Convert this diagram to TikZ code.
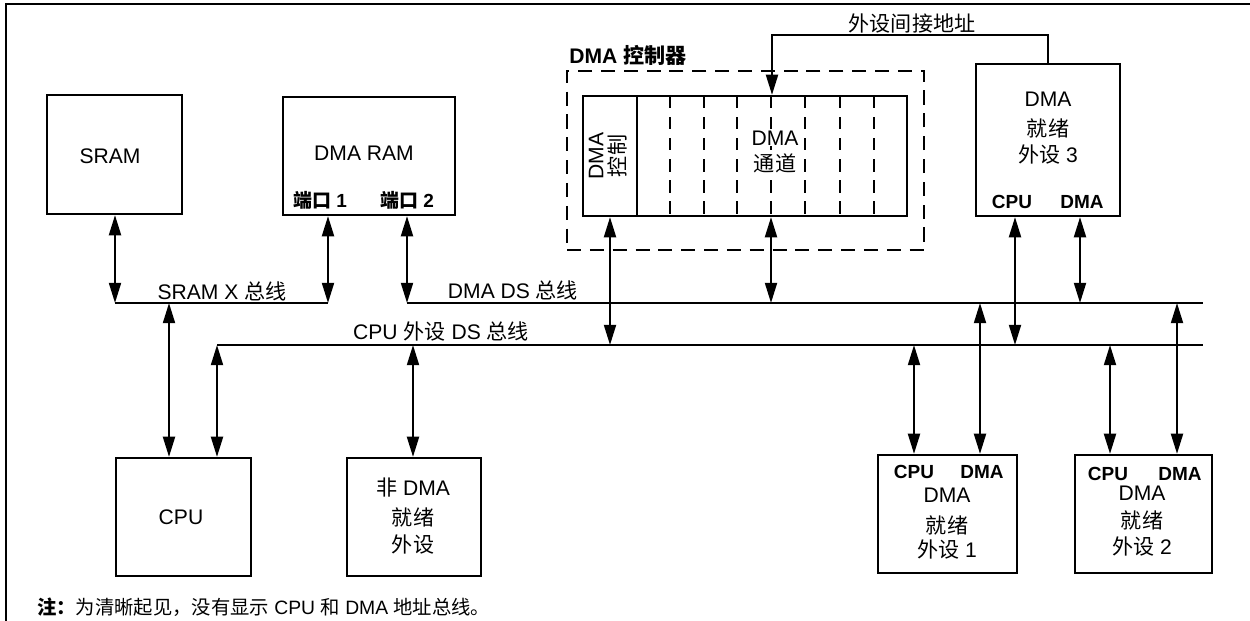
\documentclass[tikz,border=0pt]{standalone}
\usepackage{fontspec}
\setmainfont{Liberation Sans}
\newfontfamily\cjk{Noto Sans CJK SC}
\usetikzlibrary{arrows.meta,fit}
\newcommand\zh[1]{{\cjk #1}}
\begin{document}
\begin{tikzpicture}[x=0.02cm,y=-0.02cm,
  box/.style={draw,line width=1.25pt,inner sep=0pt,fit={#1}},
  lbl/.style={inner sep=1pt,font=\fontsize{12}{13.5}\selectfont},
  blbl/.style={inner sep=1pt,font=\fontsize{10.8}{12}\selectfont\bfseries},
  wlbl/.style={lbl,fill=white,inner sep=0.5pt},
  bus/.style={line width=1.25pt},
  frame/.style={line width=1.5pt},
  dashbox/.style={draw,line width=1.2pt,dash pattern=on 8pt off 5pt,inner sep=0pt,fit={#1}},
  divider/.style={line width=0.9pt,dash pattern=on 7pt off 5pt},
  tipT/.tip={Triangle[length=11.5pt,width=6.8pt]},
  bi/.style={line width=1.25pt,tipT-tipT},
  uni/.style={line width=1.25pt,-tipT},
  ]
\useasboundingbox (0,0) rectangle (1250,621);

% outer frame (open on right and bottom)
\coordinate (fb) at (6,621);
\coordinate (fc) at (6,4);
\coordinate (fr) at (1250,4);
\draw[frame] (fb) -- (fc) -- (fr);

% boxes
\node[box={(47,95) (182,214)}] (sram) {};
\node[box={(283,97) (455,215)}] (ram) {};
\node[box={(116,458) (251,576)}] (cpu) {};
\node[box={(347,458) (481,576)}] (ndma) {};
\node[box={(976,64) (1120,216)}] (p3) {};
\node[box={(878,455) (1017,573)}] (p1) {};
\node[box={(1075,455) (1212,573)}] (p2) {};

% DMA controller
\node[dashbox={(567,71) (924,250)}] (ctrl) {};
\node[box={(583,96) (907,216)}] (chan) {};
\coordinate (cdT) at (637,96);
\coordinate (cdB) at (637,216);
\draw[line width=1.25pt] (cdT) -- (cdB);
\foreach \i/\x in {1/670,2/704,3/737,4/771,5/805,6/840,7/874}{
  \coordinate (dT\i) at (\x,96);
  \coordinate (dB\i) at (\x,216);
  \draw[divider] (dT\i) -- (dB\i);
}

% labels
\node[lbl] (tsram) at (110,156) {SRAM};
\node[lbl] (tram) at (364,153) {DMA RAM};
\node[blbl] (port1) at (320,200) {\zh{\bfseries 端口} 1};
\node[blbl] (port2) at (407,200) {\zh{\bfseries 端口} 2};
\node[lbl] (tcpu) at (181,517) {CPU};
\node[lbl] (tnd1) at (413,488) {\zh{非} DMA};
\node[lbl] (tnd2) at (413,517) {\zh{就绪}};
\node[lbl] (tnd3) at (413,545) {\zh{外设}};

\node[lbl,font=\fontsize{12}{13.5}\selectfont\bfseries] (tctrl) at (628,55) {DMA \zh{\bfseries 控制器}};
\node[lbl,rotate=90,align=center,font=\fontsize{12}{12.5}\selectfont] (tcc) at (608,156) {DMA\\\zh{控制}};
\node[wlbl] (tch1) at (775,138) {DMA};
\node[wlbl] (tch2) at (775,163) {\zh{通道}};

\node[lbl] (tp31) at (1048,99) {DMA};
\node[lbl] (tp32) at (1048,128) {\zh{就绪}};
\node[lbl] (tp33) at (1048,155) {\zh{外设} 3};
\node[blbl] (p3c) at (1012,202) {CPU};
\node[blbl] (p3d) at (1082,202) {DMA};

\node[blbl] (p1c) at (914,472) {CPU};
\node[blbl] (p1d) at (982,472) {DMA};
\node[lbl] (tp11) at (947,495) {DMA};
\node[lbl] (tp12) at (947,525) {\zh{就绪}};
\node[lbl] (tp13) at (947,550) {\zh{外设} 1};

\node[blbl] (p2c) at (1108,474) {CPU};
\node[blbl] (p2d) at (1180,474) {DMA};
\node[lbl] (tp21) at (1142,493) {DMA};
\node[lbl] (tp22) at (1142,520) {\zh{就绪}};
\node[lbl] (tp23) at (1142,547) {\zh{外设} 2};

\node[lbl] (tsx) at (222,291) {SRAM X \zh{总线}};
\node[lbl] (tds) at (513,290) {DMA DS \zh{总线}};
\node[lbl] (tcb) at (441,331) {CPU \zh{外设} DS \zh{总线}};
\node[lbl] (tind) at (912,24) {\zh{外设间接地址}};

\node[lbl,anchor=west,font=\fontsize{11}{12.5}\selectfont] (note) at (35,607) {\zh{\bfseries 注：}\zh{为清晰起见，没有显示} CPU \zh{和} DMA \zh{地址总线。}};

% buses
\coordinate (sxL) at (115,303);
\coordinate (sxR) at (328,303);
\coordinate (sxC) at (169,303);
\coordinate (dsL) at (407,303);
\coordinate (dsR) at (1203,303);
\coordinate (cbL) at (217,345);
\coordinate (cbR) at (1203,345);
\draw[bus] (sxL) -- (sxR);
\draw[bus] (dsL) -- (dsR);
\draw[bus] (cbL) -- (cbR);

% bus taps
\coordinate (cbN) at (413,345);
\coordinate (cbC) at (610,345);
\coordinate (dsC) at (771,303);
\coordinate (cb3) at (1015,345);
\coordinate (ds3) at (1080,303);
\coordinate (cb1) at (914,345);
\coordinate (ds1) at (980,303);
\coordinate (cb2) at (1110,345);
\coordinate (ds2) at (1177,303);

% connectors
\draw[bi] (sxL |- sram.south) -- (sxL);
\draw[bi] (sxR |- ram.south) -- (sxR);
\draw[bi] (dsL |- ram.south) -- (dsL);
\draw[bi] (sxC) -- (sxC |- cpu.north);
\draw[bi] (cbL) -- (cbL |- cpu.north);
\draw[bi] (cbN) -- (cbN |- ndma.north);
\draw[bi] (cbC |- chan.south) -- (cbC);
\draw[bi] (dsC |- chan.south) -- (dsC);
\draw[bi] (cb3 |- p3.south) -- (cb3);
\draw[bi] (ds3 |- p3.south) -- (ds3);
\draw[bi] (cb1) -- (cb1 |- p1.north);
\draw[bi] (ds1) -- (ds1 |- p1.north);
\draw[bi] (cb2) -- (cb2 |- p2.north);
\draw[bi] (ds2) -- (ds2 |- p2.north);

% indirect address
\coordinate (iaR) at (1048,35);
\coordinate (iaL) at (772,35);
\draw[uni] (iaR |- p3.north) -- (iaR) -- (iaL) -- (iaL |- chan.north);
\end{tikzpicture}
\end{document}
